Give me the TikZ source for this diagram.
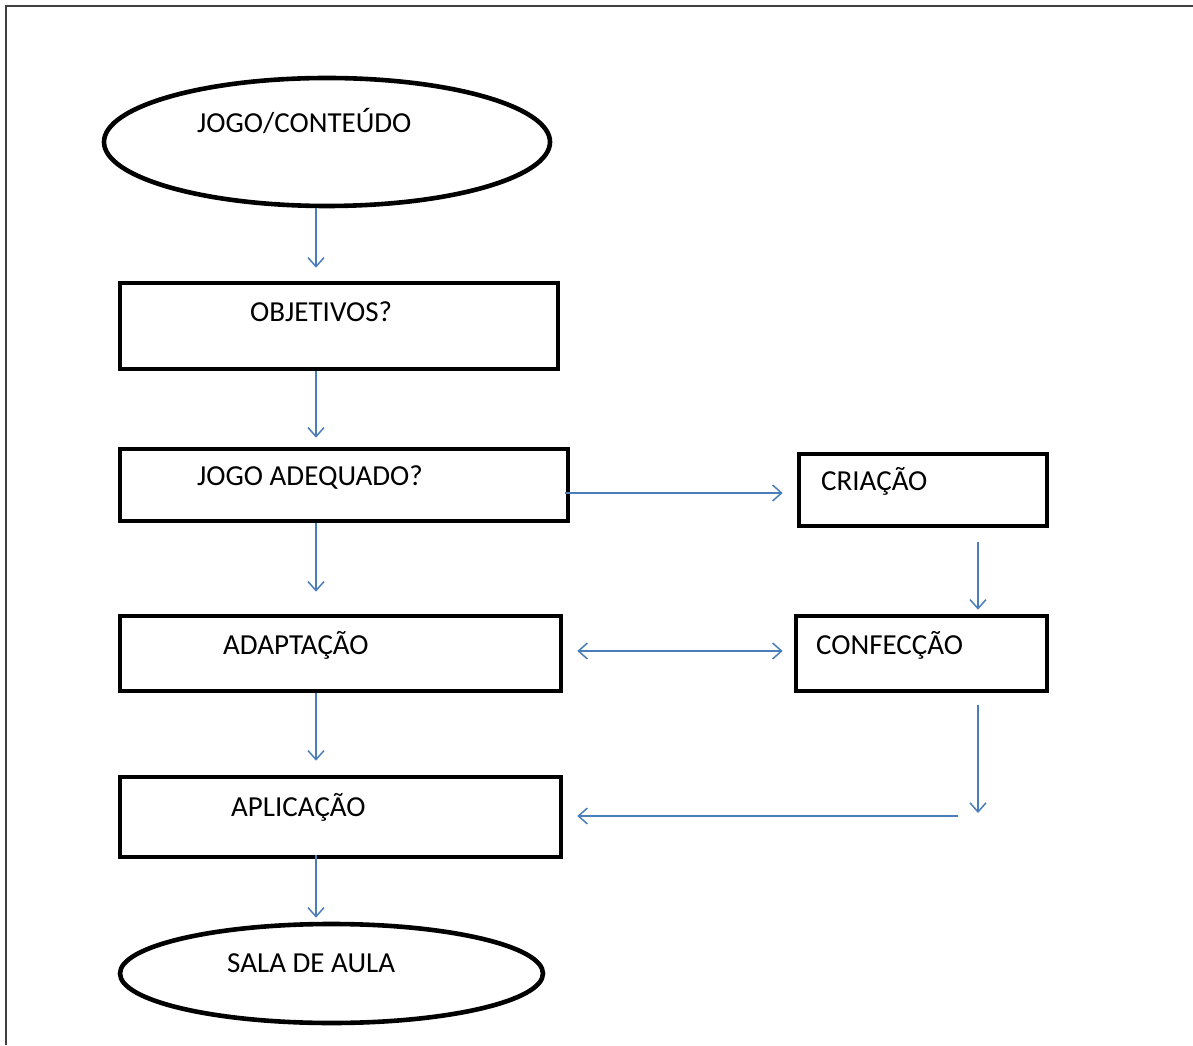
\documentclass[tikz,border=0pt]{standalone}
\usepackage{fontspec}
\setmainfont{Carlito}
\usetikzlibrary{shapes.geometric,arrows.meta}

\definecolor{azulseta}{HTML}{4A7EBB}
\tikzset{
	caixa/.style={draw, line width=4.6pt, rectangle, inner sep=0pt},
	elipse/.style={draw, line width=4.6pt, ellipse, inner sep=0pt},
	rotulo/.style={anchor=base west, inner sep=0pt, font=\fontsize{29}{34}\selectfont},
	seta/.style={draw=azulseta, line width=1.5pt, -{Straight Barb[length=9pt,width=16pt]}},
}

\begin{document}
\begin{tikzpicture}[x=1pt,y=1pt]
	\useasboundingbox (0,0) rectangle (1193,1045);
	\draw[line width=2pt, color=black!75] (6,0) -- (6,1039) -- (1193,1039);
	
	% formas
	\node[elipse, minimum width=446pt, minimum height=128pt] (jogo) at (327,903) {};
	\node[caixa, minimum width=438pt, minimum height=86pt] (obj) at (339,719) {};
	\node[caixa, minimum width=448pt, minimum height=72pt] (adeq) at (344,560) {};
	\node[caixa, minimum width=248pt, minimum height=72pt] (cria) at (923,555) {};
	\node[caixa, minimum width=441pt, minimum height=75pt] (adap) at (340.5,391.5) {};
	\node[caixa, minimum width=251pt, minimum height=75pt] (conf) at (921.5,391.5) {};
	\node[caixa, minimum width=441pt, minimum height=80pt] (apli) at (340.5,228) {};
	\node[elipse, minimum width=423pt, minimum height=99pt] (sala) at (331.5,71.5) {};
	
	% textos
	\node[rotulo] (tjogo) at (197,912) {JOGO/CONTEÚDO};
	\node[rotulo] (tobj) at (250,723) {OBJETIVOS?};
	\node[rotulo] (tadeq) at (197,559) {JOGO ADEQUADO?};
	\node[rotulo] (tcria) at (821,554) {CRIAÇÃO};
	\node[rotulo] (tadap) at (223,391) {ADAPTAÇÃO};
	\node[rotulo] (tconf) at (816,391) {CONFECÇÃO};
	\node[rotulo] (tapli) at (231,229) {APLICAÇÃO};
	\node[rotulo] (tsala) at (227,73) {SALA DE AULA};
	
	\coordinate (eixo) at (316,0);
	\coordinate (eixod) at (978,0);
	\coordinate (fim) at (978,232);
	\coordinate (retorno) at (958,229);
	
	% setas
	\draw[seta, shorten >=13pt] (jogo.south -| eixo) -- (obj.north -| eixo);
	\draw[seta, shorten >=9pt] (obj.south -| eixo) -- (adeq.north -| eixo);
	\draw[seta, shorten >=22pt] (adeq.south -| eixo) -- (adap.north -| eixo);
	\draw[seta, shorten >=14pt] (adap.south -| eixo) -- (apli.north -| eixo);
	\draw[seta, shorten <=-4pt, shorten >=4pt] (apli.south -| eixo) -- (sala.north -| eixo);
	\draw[seta, shorten <=-5pt, shorten >=14pt] ([yshift=-8pt]adeq.east) -- ([yshift=-8pt]adeq.east -| cria.west);
	\draw[seta, shorten <=14pt, shorten >=4pt] (cria.south -| eixod) -- (conf.north -| eixod);
	\draw[seta, {Straight Barb[length=9pt,width=16pt]}-{Straight Barb[length=9pt,width=16pt]}, shorten <=14pt, shorten >=11pt] ([yshift=2.5pt]adap.east) -- ([yshift=2.5pt]adap.east -| conf.west);
	\draw[seta, shorten <=12pt] (conf.south -| eixod) -- (fim);
	\draw[seta, shorten >=14pt] (retorno) -- (retorno -| apli.east);
\end{tikzpicture}
\end{document}
